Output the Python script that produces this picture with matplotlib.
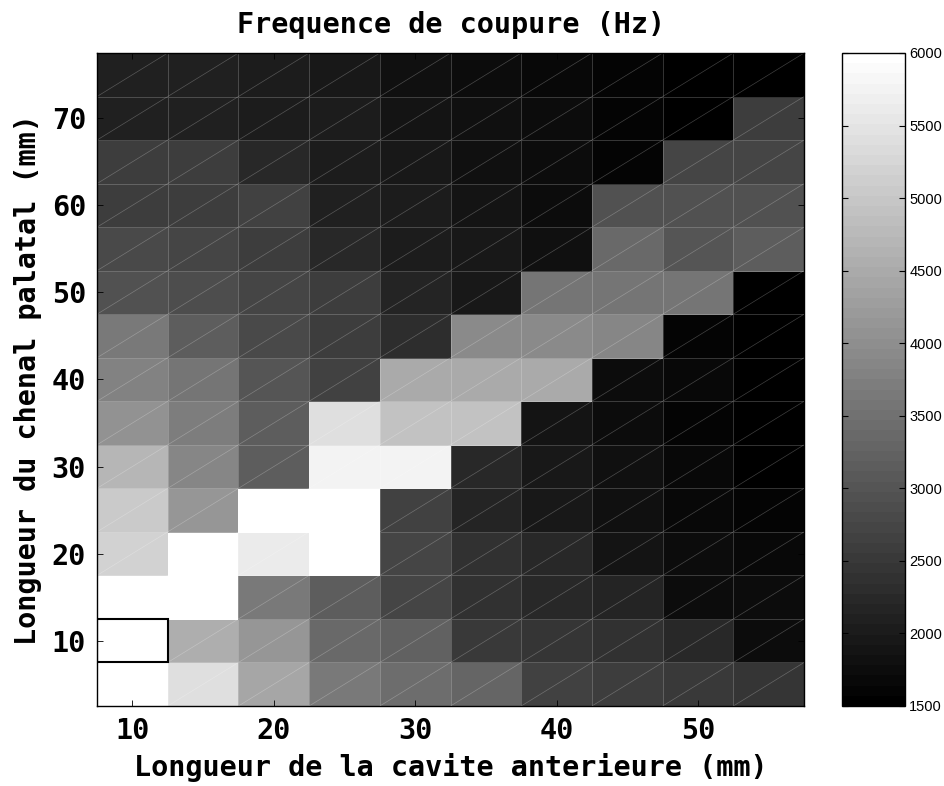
import numpy as np
import matplotlib
matplotlib.use('Agg')
import matplotlib.pyplot as plt
from matplotlib.collections import LineCollection
from matplotlib.patches import Rectangle

# anterior cavity length (mm) and palatal channel length (mm)
cavite = [10, 15, 20, 25, 30, 35, 40, 45, 50, 55]
chenal = [75, 70, 65, 60, 55, 50, 45, 40, 35, 30, 25, 20, 15, 10, 5]

# cut-off frequency (Hz), one row per chenal value (top row = 75 mm)
freq = [
    [2100, 2100, 2050, 1990, 1850, 1780, 1710, 1640, 1540, 1500],
    [2120, 2120, 2060, 2030, 1920, 1820, 1750, 1610, 1480, 2560],
    [2590, 2590, 2240, 2060, 1980, 1840, 1780, 1640, 2740, 2740],
    [2590, 2600, 2630, 2100, 2030, 1890, 1780, 2910, 2950, 2910],
    [2770, 2740, 2610, 2260, 2060, 1990, 1820, 3370, 3020, 3160],
    [2950, 2890, 2740, 2580, 2140, 1990, 3550, 3540, 3560, 1470],
    [3620, 3120, 2820, 2560, 2280, 3900, 3900, 3830, 1590, 1530],
    [3790, 3580, 3000, 2660, 4500, 4500, 4510, 1780, 1680, 1540],
    [4040, 3690, 3120, 5380, 4890, 4890, 1920, 1780, 1640, 1570],
    [4680, 3860, 3120, 5770, 5740, 2240, 1960, 1850, 1710, 1570],
    [5030, 4110, 6400, 6250, 2630, 2170, 1960, 1820, 1710, 1640],
    [5170, 6300, 5590, 6150, 2700, 2350, 2210, 1920, 1780, 1710],
    [6500, 6350, 3620, 3160, 2700, 2380, 2240, 2170, 1780, 1750],
    [6600, 4570, 4110, 3370, 3190, 2520, 2420, 2350, 2240, 1780],
    [6450, 5380, 4390, 3620, 3440, 3300, 2630, 2590, 2490, 2420],
]

cb_ticks = [1500, 2000, 2500, 3000, 3500, 4000, 4500, 5000, 5500, 6000]

x = np.array(cavite, dtype=float)
y = np.array(chenal[::-1], dtype=float)
z = np.array(freq[::-1], dtype=float)
xe = np.concatenate([x - 2.5, [x[-1] + 2.5]])
ye = np.concatenate([y - 2.5, [y[-1] + 2.5]])

font = 'DejaVu Sans Mono'
fs = 20.5

fig = plt.figure(figsize=(9.44, 7.86), dpi=100)
ax = fig.add_axes([0.1028, 0.1018, 0.749, 0.8308])
cax = fig.add_axes([0.892, 0.1018, 0.0667, 0.8308])

cmap = plt.get_cmap('gray', 64)
mesh = ax.pcolormesh(xe, ye, z, cmap=cmap, vmin=1500, vmax=6000,
                     edgecolors=(1, 1, 1, 0.2), linewidth=0.7)

# diagonal of every cell (triangulated surface look)
segs = [[(xe[i], ye[j]), (xe[i + 1], ye[j + 1])]
        for i in range(len(x)) for j in range(len(y))]
ax.add_collection(LineCollection(segs, colors=[(1, 1, 1, 0.25)], linewidths=0.5))

# frame around the max cell
j, i = np.unravel_index(np.argmax(z), z.shape)
ax.add_patch(Rectangle((xe[i], ye[j]), xe[i + 1] - xe[i], ye[j + 1] - ye[j],
                       fill=False, edgecolor='black', linewidth=1.5, zorder=5))

ax.set_xlim(xe[0], xe[-1])
ax.set_ylim(ye[0], ye[-1])
ax.set_xticks([10, 20, 30, 40, 50])
ax.set_yticks([10, 20, 30, 40, 50, 60, 70])
ax.tick_params(direction='in', length=4, width=0.6, top=True, right=True, pad=8)
for lab in ax.get_xticklabels() + ax.get_yticklabels():
    lab.set_fontfamily(font)
    lab.set_fontweight('bold')
    lab.set_fontsize(fs)
for s in ax.spines.values():
    s.set_linewidth(1.0)

ax.set_title('Frequence de coupure (Hz)', fontfamily=font, fontweight='bold',
             fontsize=fs, pad=14.5)
ax.set_xlabel('Longueur de la cavite anterieure (mm)', fontfamily=font,
              fontweight='bold', fontsize=fs, labelpad=6)
ax.set_ylabel('Longueur du chenal palatal (mm)', fontfamily=font,
              fontweight='bold', fontsize=fs, labelpad=7)

cb = fig.colorbar(mesh, cax=cax, ticks=cb_ticks)
cb.outline.set_linewidth(1.0)
cax.tick_params(direction='in', length=4, left=True, right=True,
                labelsize=10.5, pad=3)
for lab in cax.get_yticklabels():
    lab.set_fontfamily('Liberation Sans')

fig.savefig('out.png', dpi=100)
